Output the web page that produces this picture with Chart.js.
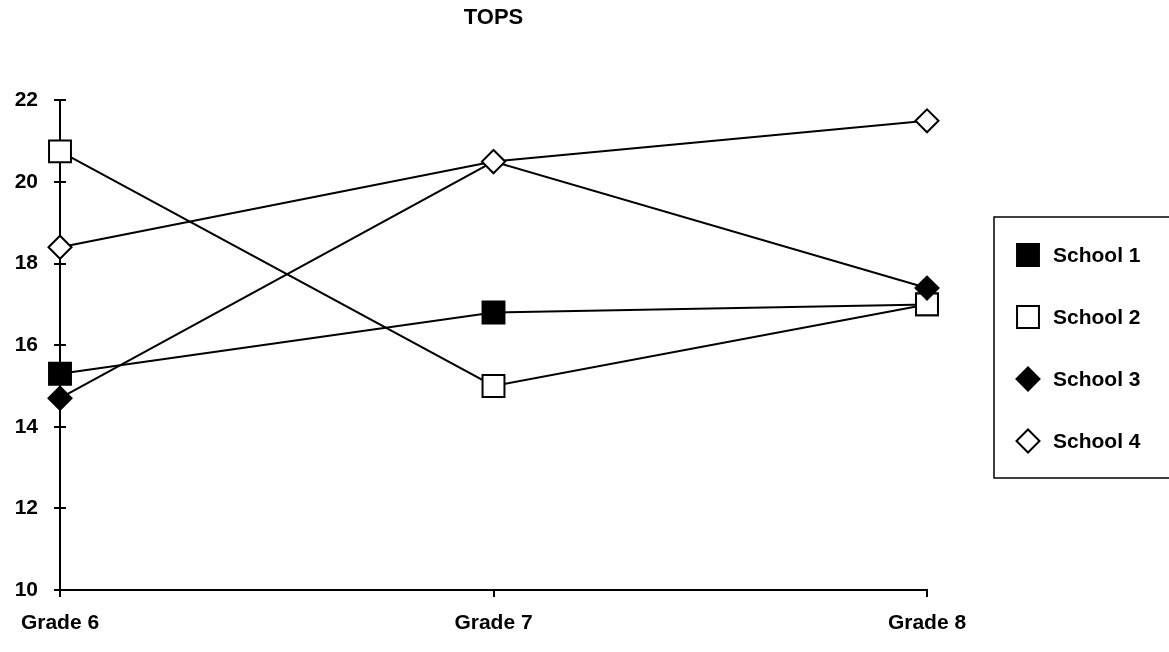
<!DOCTYPE html>
<html>
<head>
<meta charset="utf-8">
<script src="https://cdn.jsdelivr.net/npm/chart.js@4/dist/chart.umd.min.js"></script>
<style>
  html, body { margin: 0; padding: 0; background: #fff; }
  #wrap { width: 1169px; height: 652px; position: relative; }
</style>
</head>
<body>
<div id="wrap"><canvas id="c"></canvas></div>
<script>
// Categories and series
const grades = ['Grade 6', 'Grade 7', 'Grade 8'];
const school1 = [15.3, 16.8, 17.0];
const school2 = [20.75, 15.0, 17.0];
const school3 = [14.7, 20.5, 17.4];
const school4 = [18.4, 20.5, 21.5];
const seriesNames = ['School 1', 'School 2', 'School 3', 'School 4'];
const yTickValues = [10, 12, 14, 16, 18, 20, 22];

const FONT = '"Liberation Sans", Arial, Helvetica, sans-serif';
const INK = '#000';

// marker styles: filled square, open square, filled diamond, open diamond
const markerStyles = [
  { pointStyle: 'rect',    fill: INK,    radius: 15.5 },
  { pointStyle: 'rect',    fill: '#fff', radius: 15.5 },
  { pointStyle: 'rectRot', fill: INK,    radius: 11.5 },
  { pointStyle: 'rectRot', fill: '#fff', radius: 11.5 }
];
const seriesValues = [school1, school2, school3, school4];
// drawing order: School 4 on top, School 1 at the bottom
const drawOrder = [3, 2, 1, 0];

const datasets = seriesValues.map((vals, i) => ({
  label: seriesNames[i],
  data: vals,
  order: drawOrder[i],
  borderColor: INK,
  borderWidth: 2,
  backgroundColor: markerStyles[i].fill,
  pointStyle: markerStyles[i].pointStyle,
  pointRadius: markerStyles[i].radius,
  pointHoverRadius: markerStyles[i].radius,
  pointBackgroundColor: markerStyles[i].fill,
  pointBorderColor: INK,
  pointBorderWidth: 2,
  tension: 0,
  fill: false
}));

// short inward tick marks so each y tick crosses the axis
const crossTicks = {
  id: 'crossTicks',
  afterDraw(chart) {
    const { ctx, scales: { y }, chartArea } = chart;
    ctx.save();
    ctx.strokeStyle = INK;
    ctx.lineWidth = 2;
    yTickValues.forEach(v => {
      const py = Math.round(y.getPixelForValue(v));
      ctx.beginPath();
      ctx.moveTo(chartArea.left, py);
      ctx.lineTo(chartArea.left + 6, py);
      ctx.stroke();
    });
    ctx.restore();
  }
};

// boxed legend on the right
const boxLegend = {
  id: 'boxLegend',
  afterDraw(chart) {
    const ctx = chart.ctx;
    const boxL = 994, boxT = 217, boxR = 1180, boxB = 478;
    const firstY = 255, step = 62, markX = 1028, textX = 1053;
    ctx.save();
    ctx.strokeStyle = INK;
    ctx.lineWidth = 1.5;
    ctx.strokeRect(boxL, boxT, boxR - boxL, boxB - boxT);
    chart.data.datasets.forEach((ds, i) => {
      const cy = firstY + i * step;
      ctx.fillStyle = ds.pointBackgroundColor;
      ctx.strokeStyle = INK;
      ctx.lineWidth = 2;
      if (Chart.helpers && Chart.helpers.drawPoint) {
        Chart.helpers.drawPoint(ctx, {
          pointStyle: ds.pointStyle, radius: ds.pointRadius, rotation: 0, borderWidth: 2
        }, markX, cy);
      }
      ctx.fillStyle = INK;
      ctx.font = 'bold 21px ' + FONT;
      ctx.textBaseline = 'middle';
      ctx.textAlign = 'left';
      ctx.fillText(ds.label, textX, cy + 1);
    });
    ctx.restore();
  }
};

new Chart(document.getElementById('c'), {
  type: 'line',
  data: { labels: grades, datasets },
  options: {
    responsive: true,
    maintainAspectRatio: false,
    animation: false,
    events: [],
    layout: { padding: { left: 0, right: 242, top: 0, bottom: 0 } },
    plugins: {
      legend: { display: false },
      tooltip: { enabled: false },
      title: {
        display: true,
        text: 'TOPS',
        fullSize: false,
        color: INK,
        font: { family: FONT, size: 22, weight: 'bold' },
        padding: { top: 5, bottom: 69 }
      }
    },
    scales: {
      x: {
        type: 'category',
        offset: false,
        afterFit(scale) { scale.height = 62; },
        border: { display: true, color: INK, width: 2 },
        grid: { drawOnChartArea: false, drawTicks: true, tickLength: 7, color: INK, lineWidth: 2 },
        ticks: {
          color: INK,
          padding: 14,
          maxRotation: 0,
          autoSkip: false,
          font: { family: FONT, size: 21, weight: 'bold' }
        }
      },
      y: {
        min: 10,
        max: 22,
        afterFit(scale) { scale.width = 60; },
        afterBuildTicks(scale) { scale.ticks = yTickValues.map(v => ({ value: v })); },
        border: { display: true, color: INK, width: 2 },
        grid: { drawOnChartArea: false, drawTicks: true, tickLength: 6, color: INK, lineWidth: 2 },
        ticks: {
          color: INK,
          padding: 16,
          font: { family: FONT, size: 21, weight: 'bold' }
        }
      }
    }
  },
  plugins: [crossTicks, boxLegend]
});
</script>
</body>
</html>
